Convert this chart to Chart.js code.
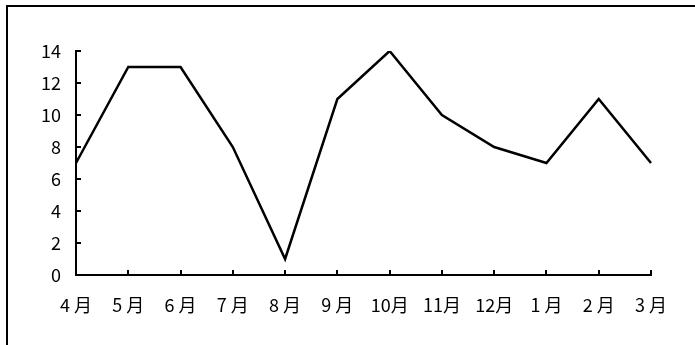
<!DOCTYPE html>
<html>
<head>
<meta charset="utf-8">
<script src="https://cdn.jsdelivr.net/npm/chart.js@4/dist/chart.umd.min.js"></script>
<style>
  html, body { margin: 0; padding: 0; background: #fff; overflow: hidden; }
  #wrap { position: relative; width: 695px; height: 345px; }
  #frame {
    position: absolute; left: 6px; top: 5px; width: 800px; height: 500px;
    border-top: 2px solid #000; border-left: 2px solid #000; box-sizing: border-box;
  }
  canvas { position: absolute; left: 0; top: 0; }
</style>
</head>
<body>
<div id="wrap">
  <div id="frame"></div>
  <canvas id="c" width="695" height="345"></canvas>
</div>
<script>
// Monthly values, April through March
const months = ['4 月', '5 月', '6 月', '7 月', '8 月', '9 月', '10月', '11月', '12月', '1 月', '2 月', '3 月'];
const counts = [7, 13, 13, 8, 1, 11, 14, 10, 8, 7, 11, 7];
const yTicks = [0, 2, 4, 6, 8, 10, 12, 14];

const FONT = { family: '"Liberation Sans Narrow", "Noto Sans CJK JP", sans-serif', size: 18 };

new Chart(document.getElementById('c'), {
  type: 'line',
  data: {
    labels: months,
    datasets: [{
      data: counts,
      borderColor: '#000',
      borderWidth: 2.5,
      pointRadius: 0,
      tension: 0,
      fill: false
    }]
  },
  options: {
    responsive: false,
    animation: false,
    devicePixelRatio: 1,
    layout: { padding: { left: 0, top: 51, right: 44, bottom: 0 } },
    plugins: { legend: { display: false }, tooltip: { enabled: false } },
    scales: {
      x: {
        offset: false,
        grid: { drawOnChartArea: false, tickLength: -5, tickColor: '#000', lineWidth: 2 },
        border: { color: '#000', width: 2 },
        ticks: { color: '#000', font: FONT, padding: 24, maxRotation: 0, autoSkip: false },
        afterFit(s) { s.height = 70; }
      },
      y: {
        min: 0, max: 14,
        afterBuildTicks(s) { s.ticks = yTicks.map(v => ({ value: v })); },
        grid: { drawOnChartArea: false, tickLength: -5, tickColor: '#000', lineWidth: 2 },
        border: { color: '#000', width: 2 },
        ticks: { color: '#000', font: FONT, padding: 20 },
        afterFit(s) { s.width = 76; }
      }
    }
  }
});
</script>
</body>
</html>
